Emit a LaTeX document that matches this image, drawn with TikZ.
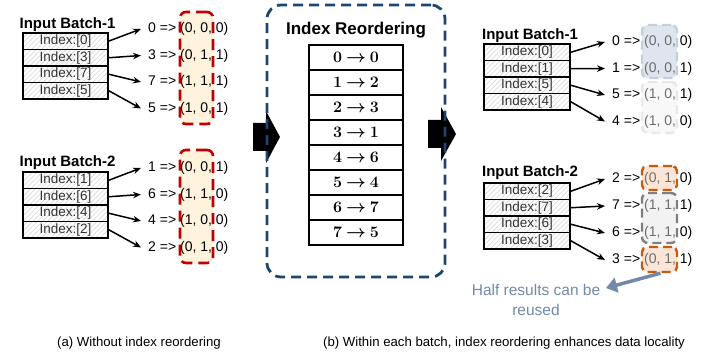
\documentclass[tikz,border=0pt]{standalone}
\usepackage{bm}
\usepackage{fontspec}
\setmainfont{Liberation Sans}
\newfontfamily\lmrb{Latin Modern Roman}
\usetikzlibrary{arrows.meta,patterns.meta}
\definecolor{redline}{HTML}{C00000}
\definecolor{yfill}{HTML}{FFF3DE}
\definecolor{navy}{HTML}{1B4672}
\definecolor{oline}{HTML}{C55A11}
\definecolor{ofill}{HTML}{FBE5D6}
\definecolor{gline}{HTML}{7F7F7F}
\definecolor{gfill}{HTML}{F2F2F2}
\definecolor{bline}{HTML}{C4CEDC}
\definecolor{bfill}{HTML}{DFE5EE}
\definecolor{lline}{HTML}{E8E8E8}
\definecolor{lfill}{HTML}{F8F8F8}
\definecolor{tgray}{HTML}{6E6E6E}
\definecolor{hblue}{HTML}{7189AB}
\newcommand{\mapto}[2]{{\lmrb\bfseries #1}\hspace{4pt}$\bm{\rightarrow}$\hspace{4pt}{\lmrb\bfseries #2}}
\begin{document}
\begin{tikzpicture}[x=1pt,y=-1pt,
  cell/.style={draw, line width=1.6pt, minimum width=85pt, minimum height=16.5pt, inner sep=0pt,
    pattern={Lines[angle=45,distance=3.5pt,line width=0.7pt]}, pattern color=black!15,
    font=\fontsize{13.5}{14}\selectfont, text=black!80},
  btitle/.style={font=\fontsize{15}{16}\selectfont\bfseries, inner sep=0pt},
  tup/.style={anchor=west, inner sep=0pt, font=\fontsize{14}{16}\selectfont},
  arr/.style={line width=1.5pt, -{Stealth[length=8pt,width=6.5pt]}},
  redbox/.style={draw=redline, line width=2.6pt, dash pattern=on 11pt off 6pt, rounded corners=6pt},
  mapcell/.style={draw, line width=2pt, minimum width=94pt, minimum height=25pt, inner sep=0pt,
    font=\fontsize{16}{18}\selectfont\boldmath},
  caption/.style={font=\fontsize{13.2}{15}\selectfont, inner sep=0pt}
]
\useasboundingbox (0,0) rectangle (722,358);

% ---------------- left part (a) ----------------
\fill[yfill, rounded corners=6pt] (180,12) rectangle (213,124);
\fill[yfill, rounded corners=6pt] (180,150) rectangle (213,263);

\node[btitle] (tA1) at (67.5,25) {Input Batch-1};
\node[cell] (a10) at (65.5,41.25) {Index:[0]};
\node[cell] (a11) at (65.5,57.75) {Index:[3]};
\node[cell] (a12) at (65.5,74.25) {Index:[7]};
\node[cell] (a13) at (65.5,90.75) {Index:[5]};
\node[tup] (ta10) at (148,29) {0 => (0, 0, 0)};
\node[tup] (ta11) at (148,55.5) {3 => (0, 1, 1)};
\node[tup] (ta12) at (148,82) {7 => (1, 1, 1)};
\node[tup] (ta13) at (148,108.5) {5 => (1, 0, 1)};
\foreach \i in {0,...,3}{\draw[arr] (a1\i.east) -- ([xshift=-7pt]ta1\i.west);}
\node[redbox, minimum width=33pt, minimum height=112pt, inner sep=0pt] (ra1) at (196.5,68) {};

\node[btitle] (tA2) at (67.5,163) {Input Batch-2};
\node[cell] (a20) at (65.5,180.25) {Index:[1]};
\node[cell] (a21) at (65.5,196.75) {Index:[6]};
\node[cell] (a22) at (65.5,213.25) {Index:[4]};
\node[cell] (a23) at (65.5,229.75) {Index:[2]};
\node[tup] (ta20) at (148,168) {1 => (0, 0, 1)};
\node[tup] (ta21) at (148,194.5) {6 => (1, 1, 0)};
\node[tup] (ta22) at (148,221) {4 => (1, 0, 0)};
\node[tup] (ta23) at (148,247.5) {2 => (0, 1, 0)};
\foreach \i in {0,...,3}{\draw[arr] (a2\i.east) -- ([xshift=-7pt]ta2\i.west);}
\node[redbox, minimum width=33pt, minimum height=113pt, inner sep=0pt] (ra2) at (196.5,206.5) {};

% ---------------- middle ----------------
\fill (253,123) -- (266,123) -- (266,111) -- (280,137) -- (266,163) -- (266,151) -- (253,151) -- cycle;
\fill (428,120) -- (441,120) -- (441,107) -- (456,134) -- (441,161) -- (441,148) -- (428,148) -- cycle;
\node[draw=navy, line width=2.8pt, dash pattern=on 10pt off 6pt, rounded corners=14pt,
  minimum width=178pt, minimum height=272pt, inner sep=0pt] (rbox) at (356,141) {};
\node[font=\fontsize{17}{19}\selectfont\bfseries, inner sep=0pt] (rtitle) at (356,30) {Index Reordering};
\node[mapcell] (m0) at (356,57.5) {\mapto{0}{0}};
\node[mapcell] (m1) at (356,82.5) {\mapto{1}{2}};
\node[mapcell] (m2) at (356,107.5) {\mapto{2}{3}};
\node[mapcell] (m3) at (356,132.5) {\mapto{3}{1}};
\node[mapcell] (m4) at (356,157.5) {\mapto{4}{6}};
\node[mapcell] (m5) at (356,182.5) {\mapto{5}{4}};
\node[mapcell] (m6) at (356,207.5) {\mapto{6}{7}};
\node[mapcell] (m7) at (356,232.5) {\mapto{7}{5}};

% ---------------- right part (b) ----------------
\fill[bfill, rounded corners=6pt] (642,25) rectangle (677,78);
\fill[lfill, rounded corners=6pt] (642,82) rectangle (677,133);
\fill[ofill, rounded corners=5pt] (642,166) rectangle (677,190);
\fill[gfill, rounded corners=6pt] (642,193) rectangle (677,243);
\fill[ofill, rounded corners=5pt] (642,247) rectangle (677,272);

\node[btitle] (tB1) at (530,36) {Input Batch-1};
\node[cell, minimum width=86pt] (b10) at (527,52.25) {Index:[0]};
\node[cell, minimum width=86pt] (b11) at (527,68.75) {Index:[1]};
\node[cell, minimum width=86pt] (b12) at (527,85.25) {Index:[5]};
\node[cell, minimum width=86pt] (b13) at (527,101.75) {Index:[4]};
\node[tup] (tb10) at (612,42) {0 => \textcolor{tgray}{(0, 0,} 0)};
\node[tup] (tb11) at (612,68.5) {1 => \textcolor{tgray}{(0, 0,} 1)};
\node[tup] (tb12) at (612,95) {5 => \textcolor{tgray}{(1, 0,} 1)};
\node[tup] (tb13) at (612,121.5) {4 => \textcolor{tgray}{(1, 0,} 0)};
\foreach \i in {0,...,3}{\draw[arr] (b1\i.east) -- ([xshift=-7pt]tb1\i.west);}
\node[draw=bline, line width=2.4pt, dash pattern=on 9pt off 5pt, rounded corners=6pt,
  minimum width=35pt, minimum height=53pt, inner sep=0pt] (bb1) at (659.5,51.5) {};
\node[draw=lline, line width=2.4pt, dash pattern=on 9pt off 5pt, rounded corners=6pt,
  minimum width=35pt, minimum height=51pt, inner sep=0pt] (bb2) at (659.5,107.5) {};

\node[btitle] (tB2) at (530,173) {Input Batch-2};
\node[cell, minimum width=86pt] (b20) at (527,191.25) {Index:[2]};
\node[cell, minimum width=86pt] (b21) at (527,207.75) {Index:[7]};
\node[cell, minimum width=86pt] (b22) at (527,224.25) {Index:[6]};
\node[cell, minimum width=86pt] (b23) at (527,240.75) {Index:[3]};
\node[tup] (tb20) at (612,179) {2 => \textcolor{tgray}{(0, 1,} 0)};
\node[tup] (tb21) at (612,206) {7 => \textcolor{tgray}{(1, 1,} 1)};
\node[tup] (tb22) at (612,233) {6 => \textcolor{tgray}{(1, 1,} 0)};
\node[tup] (tb23) at (612,260) {3 => \textcolor{tgray}{(0, 1,} 1)};
\foreach \i in {0,...,3}{\draw[arr] (b2\i.east) -- ([xshift=-7pt]tb2\i.west);}
\node[draw=oline, line width=2.4pt, dash pattern=on 9pt off 5pt, rounded corners=5pt,
  minimum width=35pt, minimum height=24pt, inner sep=0pt] (ob1) at (659.5,178) {};
\node[draw=gline, line width=2.4pt, dash pattern=on 9pt off 5pt, rounded corners=6pt,
  minimum width=35pt, minimum height=50pt, inner sep=0pt] (gb1) at (659.5,218) {};
\node[draw=oline, line width=2.4pt, dash pattern=on 9pt off 5pt, rounded corners=5pt,
  minimum width=35pt, minimum height=25pt, inner sep=0pt] (ob2) at (659.5,259.5) {};

\node[font=\fontsize{15.5}{20}\selectfont, text=hblue, align=center, inner sep=0pt] (half) at (536,300) {Half results can be\\reused};
\coordinate (htip) at (606,288);
\draw[hblue, line width=3.5pt, -{Triangle[length=11pt,width=15pt]}] ([xshift=1pt]ob2.south) -- (htip);

% ---------------- captions ----------------
\node[caption] (capa) at (139,343) {(a) Without index reordering};
\node[caption] (capb) at (504,343) {(b) Within each batch, index reordering enhances data locality};
\end{tikzpicture}
\end{document}
